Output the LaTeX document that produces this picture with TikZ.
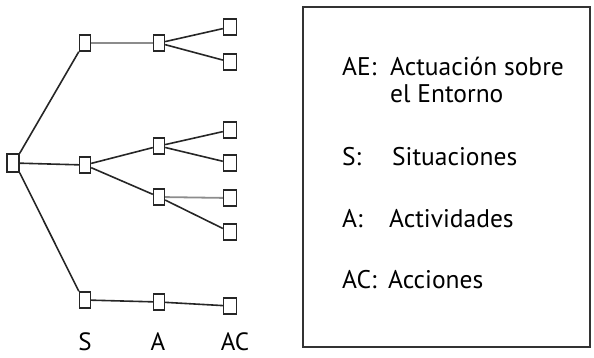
\documentclass[tikz,border=0pt]{standalone}
\usepackage{fontspec}
\setmainfont{PT Sans}
\begin{document}
\begin{tikzpicture}[x=1pt,y=-1pt,
  tn/.style={draw=black!85,fill=white,line width=1.4pt,minimum width=11pt,minimum height=16pt,inner sep=0pt},
  tnw/.style={tn,minimum width=13pt},
  edge/.style={draw=black!85,line width=1.6pt},
  edgel/.style={draw=black!45,line width=1.8pt},
  lbl/.style={anchor=base west,inner sep=0pt,font=\fontsize{25.5}{27}\selectfont},
  axl/.style={anchor=base,inner sep=0pt,font=\fontsize{25}{27}\selectfont}]
\useasboundingbox (0,0) rectangle (594,358);
% legend box
\draw[black!80,line width=1.5pt] (303,7) rectangle (590,347);
\node[lbl] (t1a) at (342,76) {AE:};
\node[lbl] (t1b) at (390,76) {Actuación sobre};
\node[lbl] (t1c) at (390,103) {el Entorno};
\node[lbl] (t2a) at (342,166) {S:};
\node[lbl] (t2b) at (392,166) {Situaciones};
\node[lbl] (t3a) at (342,227) {A:};
\node[lbl] (t3b) at (389,227) {Actividades};
\node[lbl] (t4a) at (342,288) {AC:};
\node[lbl] (t4b) at (388,288) {Acciones};
% tree nodes
\node[tn,minimum width=12pt,minimum height=18pt] (r) at (13,163) {};
\node[tn] (s1) at (85,43) {};
\node[tn] (s2) at (85,165) {};
\node[tn] (s3) at (85,300) {};
\node[tn] (a1) at (159,43) {};
\node[tn] (a2) at (159,146) {};
\node[tn] (a3) at (159,197) {};
\node[tn] (a4) at (159,302) {};
\node[tnw] (c1) at (230,27) {};
\node[tnw] (c2) at (230,62) {};
\node[tnw] (c3) at (230,130) {};
\node[tnw] (c4) at (230,163) {};
\node[tnw] (c5) at (230,198) {};
\node[tnw] (c6) at (230,232) {};
\node[tnw] (c7) at (230,306) {};
% edges
\draw[edge] (r.north east) -- (s1.south west);
\draw[edge] (r) -- (s2);
\draw[edge] (r.south east) -- (s3.north west);
\draw[edgel] (s1) -- (a1);
\draw[edge] (s2) -- (a2);
\draw[edge] (s2) -- (a3);
\draw[edge] (s3) -- (a4);
\draw[edge] (a1) -- (c1);
\draw[edge] (a1) -- (c2);
\draw[edge] (a2) -- (c3);
\draw[edge] (a2) -- (c4);
\draw[edgel] (a3) -- (c5);
\draw[edge] (a3) -- (c6);
\draw[edge] (a4) -- (c7);
% axis labels
\node[axl] (ls) at (85,350) {S};
\node[axl] (la) at (158,350) {A};
\node[axl] (lac) at (235,350) {AC};
\end{tikzpicture}
\end{document}
